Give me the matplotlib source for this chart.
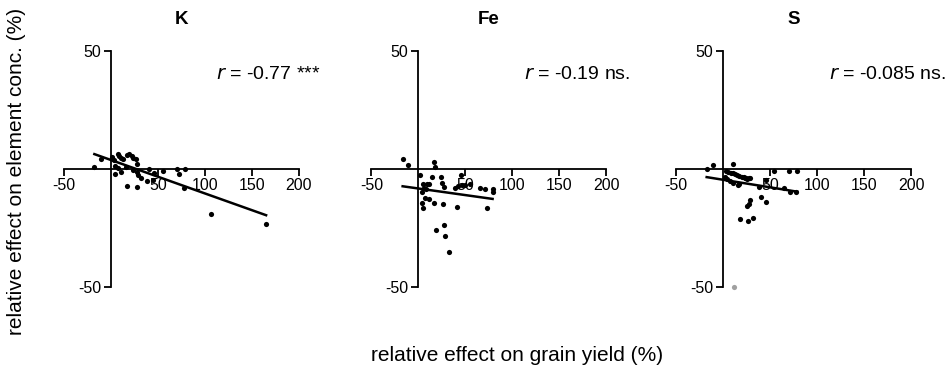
import numpy as np
import matplotlib
matplotlib.use("Agg")
import matplotlib.pyplot as plt

plt.rcParams["font.family"] = ["Liberation Sans", "DejaVu Sans"]
plt.rcParams["axes.unicode_minus"] = False

# ---- data (relative effects, %) ----
elements = ["K", "Fe", "S"]
r_labels = ["-0.77 ***", "-0.19 ns.", "-0.085 ns."]

k_yield = [-17.7, -11, 1.4, 3.2, 7.4, 8.5, 10.6, 12.4, 4.3, 4.6, 7.1, 10.6, 16,
           17.4, 18.8, 22.3, 23.8, 26.2, 28, 23.8, 27.3, 28.7, 31.6, 16.7, 28,
           40, 38.7, 44.3, 46.1, 55, 69.9, 72, 78.7, 78, 106, 165]
k_conc = [0.8, 4, 4.9, 3.8, 6.1, 5.2, 4.7, 4.0, 1.1, -2.1, 0.1, -1.4, 0.7,
          5.6, 6.1, 5.4, 4.7, 4, 2.1, -0.4, -1.4, -2.8, -3.8, -7.2, -7.9,
          0, -5.4, -4.9, -1.8, -1.1, 0, -2.1, 0, -8.1, -19.4, -23.3]

fe_yield = [-16.7, -10.6, 16.7, 17.7, 2.1, 14.2, 5, 9.2, 11.3, 5.7, 8.2, 4.3,
            7.1, 11.3, 4.3, 4.6, 16.3, 23.8, 25.5, 27.7, 26.2, 39, 40.8, 45.4,
            46.1, 55, 65.6, 70.9, 73.4, 79, 79, 18.4, 27.7, 28.4, 32.6, 42, 50]
fe_conc = [4.1, 1.6, 2.8, 0.7, -2.7, -3.5, -6.4, -6.4, -6.4, -8.1, -8.8, -9.7,
           -12.6, -13, -14.7, -16.8, -14.4, -3.4, -5.9, -7.6, -14.8, -8.1, -16.1,
           -2.7, -7.1, -6.6, -8.1, -8.8, -16.5, -8.8, -9.7, -26, -23.9, -28.7,
           -35.2, -7.5, -6.8]

s_yield = [-17.7, -11.3, 10.6, 2.8, 5.3, 7.8, 9.9, 12.4, 14.2, 17, 19.5, 22.3,
           24.1, 27.7, 1.8, 4.3, 7.1, 10.6, 16, 17, 23, 25.5, 28.4, 54.3, 70,
           78.7, 45.4, 38.3, 65, 71, 77, 40, 45, 28.4, 27.7, 25.5, 17.7, 26.6, 31.2]
s_conc = [-0.3, 1.4, 1.8, -1, -1.3, -1.7, -2, -2.4, -2.8, -3.1, -3.4, -3.5,
          -4.1, -4.1, -3.5, -4.2, -5.2, -5.9, -7, -6.3, -4.1, -4.4, -4.1, -1, -1,
          -1, -4.6, -7.6, -8, -10, -10, -12, -14.2, -13.2, -14.8, -15.6, -21.5,
          -22.2, -21]

# excluded outlier (grey) in S panel
s_out_yield = [11]
s_out_conc = [-50]

yields = [k_yield, fe_yield, s_yield]
concs = [k_conc, fe_conc, s_conc]

fig = plt.figure(figsize=(9.48, 3.76), dpi=100)
lefts = [0.0675, 0.3917, 0.7134]

for i, el in enumerate(elements):
    ax = fig.add_axes([lefts[i], 0.2375, 0.2479, 0.6277])
    x = np.array(yields[i])
    y = np.array(concs[i])
    ax.scatter(x, y, s=14, color="black", zorder=3, linewidths=0)
    if el == "S":
        ax.scatter(s_out_yield, s_out_conc, s=14, color="#a0a0a0",
                   zorder=3, linewidths=0, clip_on=False)

    slope, icpt = np.polyfit(x, y, 1)
    xx = np.array([x.min(), x.max()])
    ax.plot(xx, slope * xx + icpt, color="black", lw=1.8, zorder=4)

    ax.set_xlim(-50, 200)
    ax.set_ylim(-50, 50)
    ax.spines["left"].set_position(("data", 0))
    ax.spines["bottom"].set_position(("data", 0))
    ax.spines["top"].set_visible(False)
    ax.spines["right"].set_visible(False)
    for sp in ("left", "bottom"):
        ax.spines[sp].set_linewidth(1.3)
    ax.set_xticks([-50, 50, 100, 150, 200])
    ax.set_yticks([-50, 50])
    ax.tick_params(axis="both", direction="out", length=5, width=1.3,
                   labelsize=11.5, colors="black", pad=2)
    ax.set_facecolor("none")

    ax.set_title(el, fontsize=13.5, fontweight="bold", pad=19)
    ax.text(112, 40, "$r$ = " + r_labels[i], fontsize=14, ha="left",
            va="center")

fig.text(0.545, 0.055, "relative effect on grain yield (%)", fontsize=15,
         ha="center", va="center")
fig.text(0.017, 0.545, "relative effect on element conc. (%)", fontsize=15,
         ha="center", va="center", rotation=90)

fig.savefig("out.png", dpi=100)
